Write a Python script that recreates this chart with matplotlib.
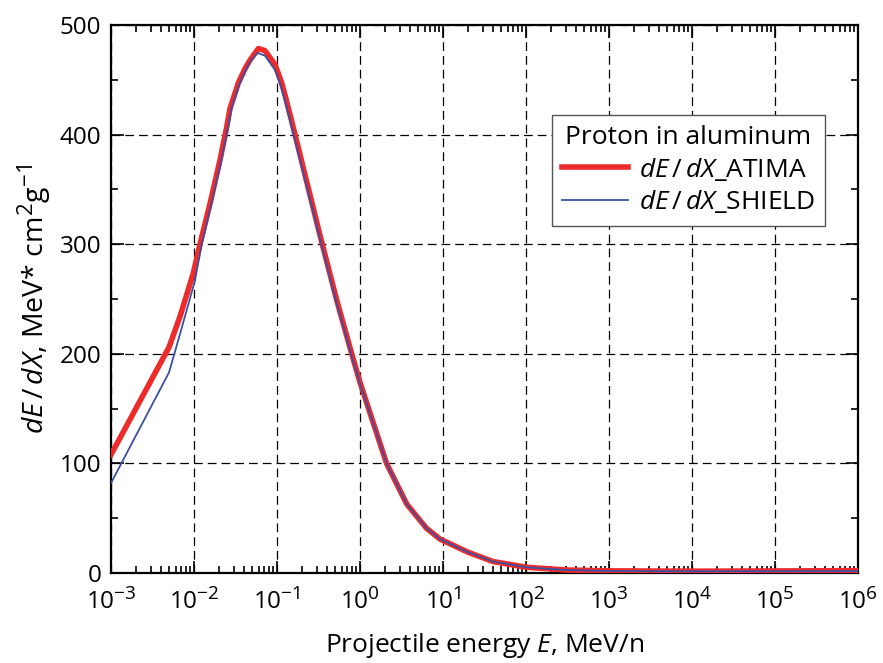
import numpy as np
import matplotlib
matplotlib.use("Agg")
import matplotlib.pyplot as plt
import matplotlib._mathtext as _mt
from matplotlib.ticker import LogLocator, MultipleLocator

_mt.SHRINK_FACTOR = 0.78

# Energy (MeV/n) and stopping power (MeV cm^2/g)
E_atima = [1e-3, 5e-3, 6.78e-3, 9.8e-3, 1.18e-2, 1.56e-2, 2.06e-2, 2.48e-2, 2.72e-2,
           3.42e-2, 4.11e-2, 4.73e-2, 5.96e-2, 7.16e-2, 9.46e-2, 0.114, 0.125, 0.165,
           0.228, 0.33, 0.524, 0.795, 1.0, 1.445, 2.09, 3.65, 6.3, 9.2, 20, 40, 100,
           300, 1e3, 1e4, 1e5, 1e6]
S_atima = [108, 206, 234, 273.5, 300, 337, 377, 407, 424,
           447, 460, 468, 478.5, 476.6, 464, 447, 436, 400,
           357, 308, 249, 200, 174, 137, 100, 63, 41, 31, 19, 10.5, 5.3,
           2.8, 2.0, 1.7, 1.9, 2.2]

E_shield = [1e-3, 5e-3, 6.78e-3, 1.028e-2, 1.24e-2, 1.62e-2, 2.14e-2, 2.58e-2, 2.83e-2,
            3.56e-2, 4.27e-2, 4.9e-2, 5.85e-2, 7.16e-2, 9.46e-2, 0.114, 0.125, 0.165,
            0.228, 0.33, 0.524, 0.795, 1.0, 1.445, 2.09, 3.65, 6.3, 9.2, 20, 40, 100,
            300, 1e3, 1e4, 1e5, 1e6]
S_shield = [82, 183, 218, 267, 300, 337, 377, 407, 424,
            447, 460, 468, 474.5, 472, 459, 442, 431, 395,
            353, 305, 246, 198, 173, 136.5, 100, 63, 41, 31, 19, 10.5, 5.3,
            2.7, 1.9, 1.6, 1.7, 1.8]

plt.rcParams['font.family'] = ['Open Sans', 'DejaVu Sans']
plt.rcParams['mathtext.fontset'] = 'custom'
plt.rcParams['mathtext.rm'] = 'Open Sans'
plt.rcParams['mathtext.it'] = 'Open Sans:italic'
plt.rcParams['mathtext.bf'] = 'Open Sans:bold'

fig = plt.figure(figsize=(8.83, 6.63), dpi=100)
ax = fig.add_axes([0.1257, 0.1357, 0.9717 - 0.1257, 0.9623 - 0.1357])

ax.plot(E_atima, S_atima, color='#EE2B2B', lw=4, label='$dE\\,/\\,dX$_ATIMA', zorder=3,
        solid_joinstyle='round')
ax.plot(E_shield, S_shield, color='#3B4FA3', lw=1.3, label='$dE\\,/\\,dX$_SHIELD', zorder=4,
        solid_joinstyle='round')

ax.set_xscale('log')
ax.set_xlim(1e-3, 1e6)
ax.set_ylim(0, 500)
ax.xaxis.set_major_locator(LogLocator(base=10, numticks=20))
ax.xaxis.set_minor_locator(LogLocator(base=10, subs=np.arange(2, 10), numticks=20))
ax.yaxis.set_major_locator(MultipleLocator(100))
ax.yaxis.set_minor_locator(MultipleLocator(50))

ax.grid(True, which='major', color='black', linestyle=(0, (7, 4)), linewidth=0.9)
ax.tick_params(which='both', direction='in', top=True, right=True, width=1.2, labelsize=17.5)
ax.tick_params(which='major', length=9)
ax.tick_params(which='minor', length=5)
ax.tick_params(axis='x', which='major', pad=11)
ax.tick_params(axis='y', which='major', pad=7)
for s in ax.spines.values():
    s.set_linewidth(1.6)

ax.set_xlabel('Projectile energy $E$, MeV/n', fontsize=19, labelpad=12)
ax.set_ylabel('$dE\\,/\\,dX$, MeV* cm$^2$g$^{-1}$', fontsize=20.5, labelpad=5)

leg = ax.legend(title='Proton in aluminum', loc='upper right', bbox_to_anchor=(0.956, 0.836),
                fontsize=19, title_fontsize=19, frameon=True, fancybox=False,
                edgecolor='#555555', framealpha=1, handlelength=2.5, borderpad=0.4,
                labelspacing=0.2, handletextpad=0.4, borderaxespad=0)
leg.get_frame().set_linewidth(1.0)

fig.savefig('out.png', dpi=100)
